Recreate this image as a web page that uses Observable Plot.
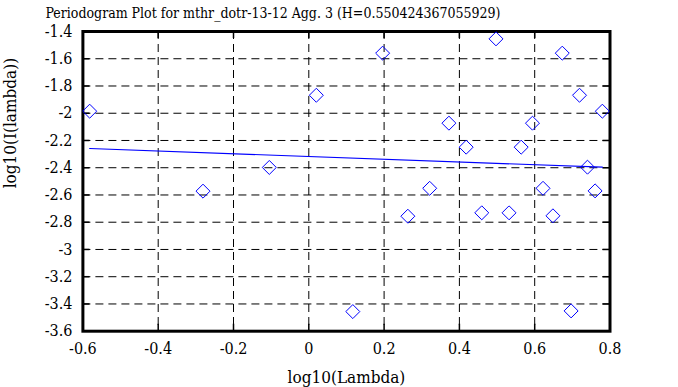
<!DOCTYPE html>
<html>
<head>
<meta charset="utf-8">
<script src="https://cdn.jsdelivr.net/npm/d3@7"></script>
<script src="https://cdn.jsdelivr.net/npm/@observablehq/plot@0.6"></script>
<style>
  html, body { margin: 0; padding: 0; background: #fff; }
  .ser { font-family: "DejaVu Serif Condensed", "DejaVu Serif", serif !important; font-stretch: condensed; }
</style>
</head>
<body>
<div id="chart"></div>
<script>
const titleText = "Periodogram Plot for mthr_dotr-13-12 Agg. 3 (H=0.550424367055929)";
const xLabel = "log10(Lambda)";
const yLabel = "log10(I(lambda))";

const logLambda = [-0.5820, -0.2810, -0.1049, 0.0200, 0.1169, 0.1961, 0.2631, 0.3211, 0.3722,
  0.4180, 0.4594, 0.4972, 0.5319, 0.5641, 0.5941, 0.6221, 0.6484, 0.6732, 0.6967, 0.7190,
  0.7402, 0.7604, 0.7797];
const logI = [-1.985, -2.572, -2.398, -1.868, -3.456, -1.559, -2.756, -2.551, -2.073,
  -2.249, -2.731, -1.454, -2.731, -2.249, -2.073, -2.551, -2.753, -1.559, -3.451, -1.868,
  -2.396, -2.570, -1.985];

const fitX = [-0.5820, 0.7797];
const fitY = [-2.259, -2.396];

const xTicks = [-0.6, -0.4, -0.2, 0, 0.2, 0.4, 0.6, 0.8];
const yTicks = [-3.6, -3.4, -3.2, -3, -2.8, -2.6, -2.4, -2.2, -2, -1.8, -1.6, -1.4];

const points = logLambda.map((x, i) => ({x, y: logI[i]}));
const fit = fitX.map((x, i) => ({x, y: fitY[i]}));

const W = 678, H = 387;
const mL = 82.4, mR = 68.5, mT = 31, mB = 56.3;
const pw = W - mL - mR, ph = H - mT - mB;
const tick = 7;
const blue = "#0000ff";

const chart = Plot.plot({
  width: W, height: H,
  marginLeft: mL, marginRight: mR, marginTop: mT, marginBottom: mB,
  style: {background: "#fff", color: "#000"},
  x: {domain: [-0.6, 0.8]},
  y: {domain: [-3.6, -1.4]},
  marks: [
    Plot.gridX(xTicks, {stroke: "#000", strokeOpacity: 1, strokeWidth: 1, strokeDasharray: "8,5"}),
    Plot.gridY(yTicks, {stroke: "#000", strokeOpacity: 1, strokeWidth: 1, strokeDasharray: "8,5"}),
    Plot.ruleY(yTicks, {y: d => d, insetRight: pw - tick, stroke: "#000", strokeWidth: 1.5}),
    Plot.ruleY(yTicks, {y: d => d, insetLeft: pw - tick, stroke: "#000", strokeWidth: 1.5}),
    Plot.ruleX(xTicks, {x: d => d, insetBottom: ph - tick, stroke: "#000", strokeWidth: 1.5}),
    Plot.ruleX(xTicks, {x: d => d, insetTop: ph - tick, stroke: "#000", strokeWidth: 1.5}),
    Plot.frame({stroke: "#000", strokeWidth: 3}),
    Plot.line(fit, {x: "x", y: "y", stroke: blue, strokeWidth: 1.2}),
    Plot.dot(points, {x: "x", y: "y", symbol: "diamond2", r: 6.3, stroke: blue, strokeWidth: 1, fill: "none"}),
    Plot.axisX(xTicks, {tickSize: 0, tickPadding: 11, fontSize: 16, className: "ser", label: null, tickFormat: d => String(d)}),
    Plot.axisY(yTicks, {tickSize: 0, tickPadding: 10.5, fontSize: 16, className: "ser", label: null, tickFormat: d => String(d)}),
    Plot.text([titleText], {frameAnchor: "top-left", text: d => d, textAnchor: "start", lineAnchor: "bottom", dx: -37.4, dy: -14, fontSize: 14, className: "ser"}),
    Plot.text([xLabel], {frameAnchor: "bottom", text: d => d, lineAnchor: "bottom", dy: 52, fontSize: 17, className: "ser"}),
    Plot.text([yLabel], {frameAnchor: "left", text: d => d, rotate: -90, lineAnchor: "top", dx: -79, dy: 7, fontSize: 17, className: "ser"})
  ]
});
document.getElementById("chart").appendChild(chart);
</script>
</body>
</html>
